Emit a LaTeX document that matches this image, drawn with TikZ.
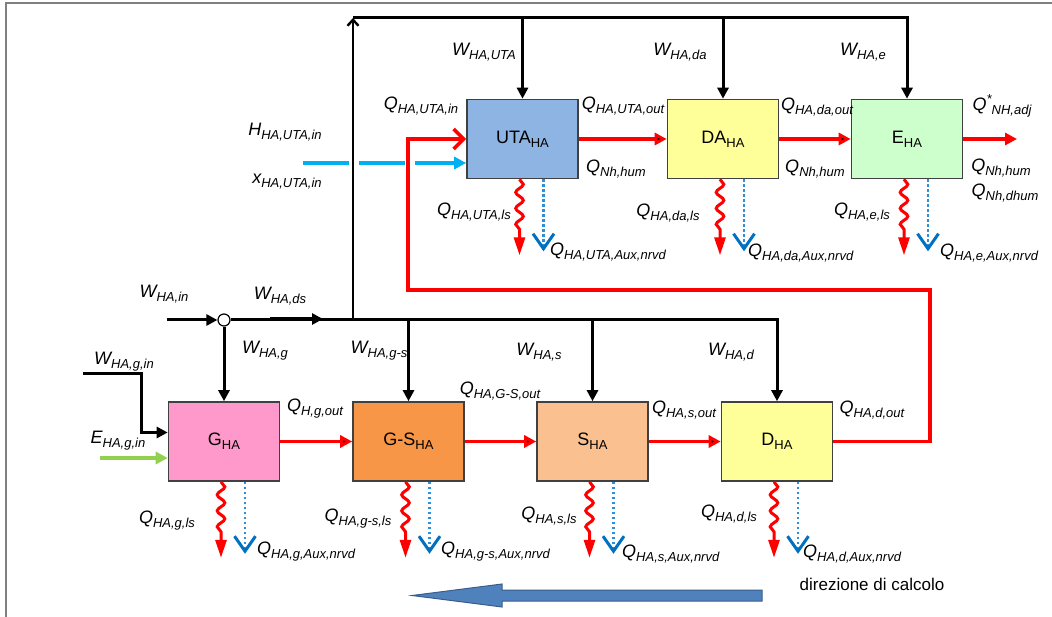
\documentclass[tikz,border=0pt]{standalone}
\usepackage{fontspec}
\setmainfont{Liberation Sans}
\usetikzlibrary{calc,arrows.meta,positioning,decorations.pathmorphing}

\definecolor{utafill}{HTML}{8EB4E3}
\definecolor{dafill}{HTML}{FFFF99}
\definecolor{efill}{HTML}{CCFFCC}
\definecolor{gfill}{HTML}{FF99CC}
\definecolor{gsfill}{HTML}{F79646}
\definecolor{sfill}{HTML}{FAC090}
\definecolor{humcyan}{HTML}{00B0F0}
\definecolor{elgreen}{HTML}{92D050}
\definecolor{auxblue}{HTML}{0070C0}
\definecolor{auxdot}{HTML}{2E8FD8}
\definecolor{calcblue}{HTML}{4F81BD}
\definecolor{calcline}{HTML}{385D8A}

\newcommand{\sbs}[1]{\raisebox{-4pt}{\fontsize{13}{14}\selectfont #1}}
\newcommand{\sps}[1]{\raisebox{7pt}{\fontsize{13}{14}\selectfont #1}}

\tikzset{
    unit/.style={
    rectangle,draw=black!75,line width=1.6pt,minimum width=111pt,minimum height=79pt,inner sep=0pt,
    font=\fontsize{18}{20}\selectfont
    },
    qlabel/.style={
    inner sep=0pt,font=\fontsize{18}{20}\selectfont\itshape
    },
    junction/.style={
    circle,draw=black,fill=white,line width=1.2pt,inner sep=0pt,minimum size=12pt
    },
    flow/.style={
    draw=black,line width=3pt,-{Triangle[length=11pt,width=11pt]}
    },
    riser/.style={
    draw=black,line width=2.4pt,-{Straight Barb[length=6pt,width=11pt]}
    },
    heat/.style={
    draw=red,line width=3.6pt,-{Triangle[length=12pt,width=12pt]}
    },
    backheat/.style={
    draw=red,line width=3.6pt,-{Straight Barb[length=10pt,width=20pt]}
    },
    humid/.style={
    draw=humcyan,line width=3.6pt,dash pattern=on 46pt off 10pt,-{Triangle[length=12pt,width=12pt]}
    },
    elec/.style={
    draw=elgreen,line width=3.6pt,-{Triangle[length=12pt,width=12pt]}
    },
    loss/.style={
    draw=red,line width=3pt,decorate,
    decoration={snake,amplitude=3.8pt,segment length=16pt,post length=22pt},
    -{Triangle[length=18pt,width=11pt]}
    },
    aux/.style={
    draw=auxdot,line width=2.8pt,dash pattern=on 2.5pt off 2.5pt,
    -{Straight Barb[length=15pt,width=21pt,line width=3pt,color=auxblue]}
    },
}

\begin{document}
\begin{tikzpicture}[x=1pt,y=-1pt]
   \useasboundingbox (0,0) rectangle (1052,617);
   \draw[gray,line width=2pt] (6,617) -- (6,3) -- (1052,3);

   \node[unit,fill=utafill] (uta) at (522.5,139) {UTA\sbs{HA}};
   \node[unit,fill=dafill] (da) at (723,139) {DA\sbs{HA}};
   \node[unit,fill=efill] (e) at (907,139) {E\sbs{HA}};
   \node[unit,fill=gfill] (g) at (224,441.5) {G\sbs{HA}};
   \node[unit,fill=gsfill] (gs) at (408.5,441.5) {G-S\sbs{HA}};
   \node[unit,fill=sfill] (s) at (592.5,441.5) {S\sbs{HA}};
   \node[unit,fill=dafill] (d) at (777,441.5) {D\sbs{HA}};

   \node[junction] (jn) at (224,320) {};
   \coordinate (win) at (167,320);
   \coordinate (ds1) at (270,319);
   \coordinate (ds2) at (323,319);
   \coordinate (rise) at (353,320);
   \coordinate (top) at (353,18);
   \coordinate (gin) at (83,374);
   \coordinate (gbend) at (141,374);
   \coordinate (ein) at (100,458);
   \coordinate (hin) at (303,163);
   \coordinate (loopr) at (930,290);
   \coordinate (loopl) at (408,290);
   \coordinate (eout) at (1017,139);

   \draw[flow] (win) -- (jn);
   \draw[flow] (jn.east) -| (d.north);
   \draw[flow,line width=3.8pt] (ds1) -- (ds2);
   \draw[flow] (jn) -- (g);
   \draw[flow] (gs |- jn) -- (gs);
   \draw[flow] (s |- jn) -- (s);
   \draw[flow] (gin) -- (gbend) |- ([yshift=9pt]g.west);
   \draw[elec] (ein) -- (ein -| g.west);

   \draw[riser] (rise) -- (top);
   \draw[flow] (top) -| (e.north);
   \draw[flow] (uta |- top) -- (uta);
   \draw[flow] (da |- top) -- (da);

   \path[heat] (g) edge (gs) (gs) edge (s) (s) edge (d)
               (uta) edge (da) (da) edge (e);
   \draw[heat] (e.east) -- (eout);
   \draw[backheat] (d.east) -| (loopr) -- (loopl) |- (uta.west);
   \draw[humid] (hin) -- (hin -| uta.west);

   \draw[loss] ([xshift=-3pt]uta.south) -- ++(0,76);
   \draw[loss] ([xshift=-3pt]da.south) -- ++(0,76);
   \draw[loss] ([xshift=-3pt]e.south) -- ++(0,76);
   \draw[loss] ([xshift=-3pt]g.south) -- ++(0,76);
   \draw[loss] ([xshift=-3pt]gs.south) -- ++(0,76);
   \draw[loss] ([xshift=-3pt]s.south) -- ++(0,76);
   \draw[loss] ([xshift=-3pt]d.south) -- ++(0,76);
   \draw[aux] ([xshift=21pt]uta.south) -- ++(0,72);
   \draw[aux] ([xshift=21pt]da.south) -- ++(0,72);
   \draw[aux] ([xshift=21pt]e.south) -- ++(0,72);
   \draw[aux] ([xshift=21pt]g.south) -- ++(0,72);
   \draw[aux] ([xshift=21pt]gs.south) -- ++(0,72);
   \draw[aux] ([xshift=21pt]s.south) -- ++(0,72);
   \draw[aux] ([xshift=21pt]d.south) -- ++(0,72);

   \draw[draw=calcline,fill=calcblue,line width=1pt]
     (762,590) -- (502,590) -- (502,584) -- (412,595.5) -- (502,607) -- (502,601) -- (762,601) -- cycle;

   \node[qlabel] (lwuta) at (484,52) {W\sbs{HA,UTA}};
   \node[qlabel] (lwda) at (680,52) {W\sbs{HA,da}};
   \node[qlabel] (lwe) at (863,52) {W\sbs{HA,e}};
   \node[qlabel] (lqutain) at (421,106) {Q\sbs{HA,UTA,in}};
   \node[qlabel] (lhin) at (285,132) {H\sbs{HA,UTA,in}};
   \node[qlabel] (lxin) at (287,182) {x\sbs{HA,UTA,in}};
   \node[qlabel] (lqutaout) at (623,106) {Q\sbs{HA,UTA,out}};
   \node[qlabel] (lhumuta) at (616,169) {Q\sbs{Nh,hum}};
   \node[qlabel] (lqdaout) at (817,107) {Q\sbs{HA,da,out}};
   \node[qlabel] (lhumda) at (815,169) {Q\sbs{Nh,hum}};
   \node[qlabel] (lqadj) at (1002,106) {Q\sps{*}\sbs{NH,adj}};
   \node[qlabel] (lhume) at (1001,168) {Q\sbs{Nh,hum}};
   \node[qlabel] (ldhume) at (1005,193) {Q\sbs{Nh,dhum}};
   \node[qlabel] (llsuta) at (474,212) {Q\sbs{HA,UTA,ls}};
   \node[qlabel,anchor=west] (lauxuta) at (550,252) {Q\sbs{HA,UTA,Aux,nrvd}};
   \node[qlabel] (llsda) at (668,213) {Q\sbs{HA,da,ls}};
   \node[qlabel,anchor=west] (lauxda) at (748,253) {Q\sbs{HA,da,Aux,nrvd}};
   \node[qlabel] (llse) at (862,212) {Q\sbs{HA,e,ls}};
   \node[qlabel,anchor=west] (lauxe) at (940,253) {Q\sbs{HA,e,Aux,nrvd}};

   \node[qlabel] (lwin) at (164,294) {W\sbs{HA,in}};
   \node[qlabel] (lwds) at (280,296) {W\sbs{HA,ds}};
   \node[qlabel] (lwg) at (265,351) {W\sbs{HA,g}};
   \node[qlabel] (lwgin) at (124,362) {W\sbs{HA,g,in}};
   \node[qlabel] (lwgs) at (379,351) {W\sbs{HA,g-s}};
   \node[qlabel] (legin) at (118,441) {E\sbs{HA,g,in}};
   \node[qlabel] (lqgout) at (315,409) {Q\sbs{H,g,out}};
   \node[qlabel] (lqgsout) at (500,391) {Q\sbs{HA,G-S,out}};
   \node[qlabel] (lws) at (539,352) {W\sbs{HA,s}};
   \node[qlabel] (lwd) at (731,352) {W\sbs{HA,d}};
   \node[qlabel] (lqsout) at (684,410) {Q\sbs{HA,s,out}};
   \node[qlabel] (lqdout) at (872,410) {Q\sbs{HA,d,out}};
   \node[qlabel] (llsg) at (167,521) {Q\sbs{HA,g,ls}};
   \node[qlabel,anchor=west] (lauxg) at (257,552) {Q\sbs{HA,g,Aux,nrvd}};
   \node[qlabel] (llsgs) at (358,519) {Q\sbs{HA,g-s,ls}};
   \node[qlabel,anchor=west] (lauxgs) at (441,552) {Q\sbs{HA,g-s,Aux,nrvd}};
   \node[qlabel] (llss) at (549,516) {Q\sbs{HA,s,ls}};
   \node[qlabel,anchor=west] (lauxs) at (622,554) {Q\sbs{HA,s,Aux,nrvd}};
   \node[qlabel] (llsd) at (729,514) {Q\sbs{HA,d,ls}};
   \node[qlabel,anchor=west] (lauxd) at (803,554) {Q\sbs{HA,d,Aux,nrvd}};
   \node[inner sep=0pt,font=\fontsize{17}{19}\selectfont] (lcalc) at (872,584) {direzione di calcolo};
\end{tikzpicture}
\end{document}
